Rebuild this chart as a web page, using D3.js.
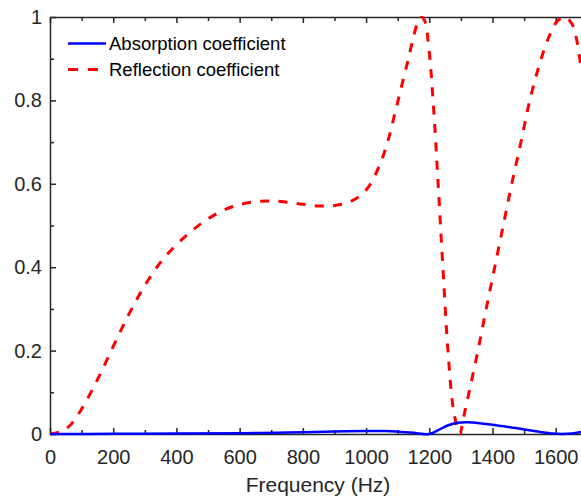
<!DOCTYPE html>
<html>
<head>
<meta charset="utf-8">
<script src="https://cdn.jsdelivr.net/npm/d3@7"></script>
<style>
  html, body { margin: 0; padding: 0; background: #fff; }
  svg { display: block; font-family: "Liberation Sans", Arial, Helvetica, sans-serif; }
</style>
</head>
<body>
<svg id="chart" width="581" height="498"></svg>
<script>
// Frequency grid (Hz) and coefficients
const reflFreq = [0, 30, 60, 100, 150, 200, 250, 300, 350, 400, 450, 500, 550, 600, 650, 700, 750, 800, 850, 900, 950, 1000, 1043, 1070, 1091, 1112, 1133, 1150, 1165, 1175, 1186, 1198, 1212, 1228, 1243, 1259, 1275, 1287, 1296, 1310, 1330, 1354, 1380, 1407, 1434, 1461, 1490, 1518, 1550, 1580, 1605, 1628, 1650, 1665, 1680];
const reflValues = [0, 0.005, 0.018, 0.06, 0.13, 0.21, 0.288, 0.356, 0.412, 0.454, 0.488, 0.516, 0.537, 0.55, 0.557, 0.559, 0.556, 0.551, 0.547, 0.548, 0.557, 0.585, 0.645, 0.705, 0.768, 0.833, 0.897, 0.952, 0.99, 1.0, 0.99, 0.93, 0.8, 0.6, 0.4, 0.2, 0.065, 0.02, 0, 0.045, 0.115, 0.2, 0.3, 0.4, 0.5, 0.6, 0.7, 0.8, 0.89, 0.955, 0.99, 1.0, 0.985, 0.95, 0.88];

const absFreq = [0, 200, 400, 600, 800, 900, 1000, 1060, 1110, 1160, 1200, 1230, 1260, 1290, 1320, 1360, 1400, 1450, 1500, 1550, 1590, 1620, 1650, 1680];
const absValues = [0, 0.0005, 0.001, 0.002, 0.004, 0.006, 0.007, 0.007, 0.005, 0.002, 0, 0.01, 0.021, 0.027, 0.028, 0.026, 0.022, 0.017, 0.011, 0.005, 0.001, 0, 0.001, 0.005];

const xTickLabels = [0, 200, 400, 600, 800, 1000, 1200, 1400, 1600];
const xMinorTicks = [100, 300, 500, 700, 900, 1100, 1300, 1500, 1700];
const yTickLabels = [0, 0.2, 0.4, 0.6, 0.8, 1];
const yMinorTicks = [0.1, 0.3, 0.5, 0.7, 0.9];

const seriesNames = ["Absorption coefficient", "Reflection coefficient"];
const xLabel = "Frequency (Hz)";

const axisColor = "#262626";
const svg = d3.select("#chart");

const x = d3.scaleLinear().domain([0, 1680]).range([50, 581]);
const y = d3.scaleLinear().domain([0, 1]).range([434, 17]);

// clip region for the data lines
svg.append("defs").append("clipPath").attr("id", "plotClip")
  .append("rect").attr("x", x(0)).attr("y", y(1) - 1)
  .attr("width", x(1680) - x(0)).attr("height", y(0) - y(1) + 4);

function styleAxis(g) {
  g.selectAll("path").attr("stroke", axisColor).attr("stroke-width", 1.5);
  g.selectAll("line").attr("stroke", axisColor).attr("stroke-width", 1.5);
  g.selectAll("text").attr("fill", axisColor);
}

// bottom axis, ticks pointing inward
const xAxis = svg.append("g").attr("transform", `translate(0,${y(0)})`)
  .call(d3.axisBottom(x).tickValues(xTickLabels).tickSize(-6).tickSizeOuter(0)
    .tickPadding(16).tickFormat(d3.format("d")));
xAxis.attr("font-size", 20).attr("font-family", null);
styleAxis(xAxis);
svg.append("g").attr("transform", `translate(0,${y(0)})`)
  .call(d3.axisBottom(x).tickValues(xMinorTicks).tickSize(-4).tickFormat(""))
  .call(g => g.select(".domain").remove()).call(styleAxis);

// top edge of the box
const xTop = svg.append("g").attr("transform", `translate(0,${y(1)})`)
  .call(d3.axisTop(x).tickValues(xTickLabels).tickSize(-6).tickSizeOuter(0).tickFormat(""));
styleAxis(xTop);
svg.append("g").attr("transform", `translate(0,${y(1)})`)
  .call(d3.axisTop(x).tickValues(xMinorTicks).tickSize(-4).tickFormat(""))
  .call(g => g.select(".domain").remove()).call(styleAxis);

// left axis
const yAxis = svg.append("g").attr("transform", `translate(${x(0)},0)`)
  .call(d3.axisLeft(y).tickValues(yTickLabels).tickSize(-6).tickSizeOuter(0)
    .tickPadding(8).tickFormat(d3.format("~g")));
yAxis.attr("font-size", 20).attr("font-family", null);
styleAxis(yAxis);
svg.append("g").attr("transform", `translate(${x(0)},0)`)
  .call(d3.axisLeft(y).tickValues(yMinorTicks).tickSize(-4).tickFormat(""))
  .call(g => g.select(".domain").remove()).call(styleAxis);

// x axis title
svg.append("text")
  .attr("x", 318).attr("y", 492)
  .attr("text-anchor", "middle")
  .attr("font-size", 21)
  .attr("fill", axisColor)
  .text(xLabel);

// data lines
const plot = svg.append("g").attr("clip-path", "url(#plotClip)");
const line = d3.line().x(d => x(d[0])).y(d => y(d[1])).curve(d3.curveCatmullRom.alpha(0.5));

plot.append("path")
  .datum(reflFreq.map((f, i) => [f, reflValues[i]]))
  .attr("fill", "none").attr("stroke", "#ff0000").attr("stroke-width", 3)
  .attr("stroke-dasharray", "9,9.3")
  .attr("d", line);

plot.append("path")
  .datum(absFreq.map((f, i) => [f, absValues[i]]))
  .attr("fill", "none").attr("stroke", "#0000ff").attr("stroke-width", 2.5)
  .attr("d", line);

// legend
const legend = svg.append("g");
const legendItems = [
  { name: seriesNames[0], color: "#0000ff", dash: null, width: 2.5 },
  { name: seriesNames[1], color: "#ff0000", dash: "10,10", width: 3 }
];
legendItems.forEach((item, i) => {
  const ly = 43.5 + i * 26;
  legend.append("line")
    .attr("x1", 68).attr("x2", item.dash ? 98 : 106)
    .attr("y1", ly).attr("y2", ly)
    .attr("stroke", item.color).attr("stroke-width", item.width)
    .attr("stroke-dasharray", item.dash);
  legend.append("text")
    .attr("x", 109).attr("y", ly + 6.5)
    .attr("font-size", 18.5)
    .attr("fill", "#000")
    .text(item.name);
});
</script>
</body>
</html>
